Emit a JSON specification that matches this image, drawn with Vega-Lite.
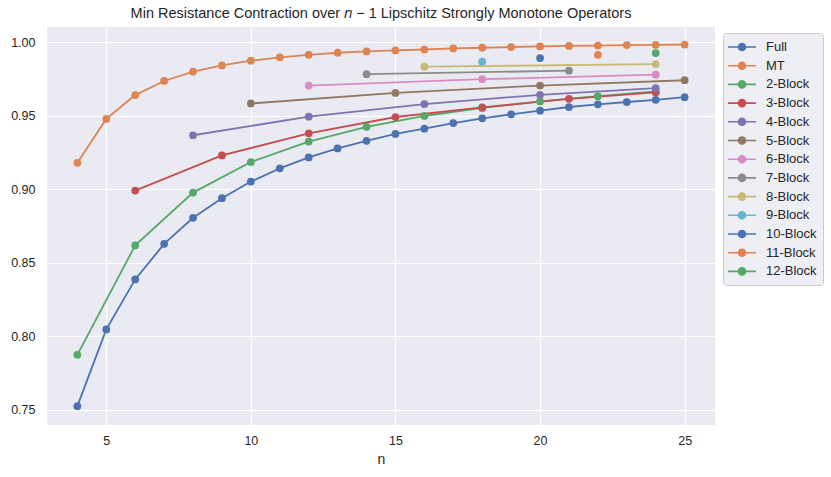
{
  "$schema": "https://vega.github.io/schema/vega-lite/v6.json",
  "width": 668,
  "height": 398,
  "autosize": {"type": "none"},
  "padding": {"left": 47, "top": 27, "right": 116, "bottom": 52},
  "background": "white",
  "title": {"text": "Min Resistance Contraction over 𝑛 − 1 Lipschitz Strongly Monotone Operators", "fontSize": 14.5, "font": "Liberation Sans", "fontWeight": "normal", "color": "#262626", "offset": 6},
  "config": {
    "view": {"fill": "#EAEAF2", "stroke": null},
    "axis": {"domain": false, "ticks": false, "gridColor": "white", "gridWidth": 1.2, "labelFont": "Liberation Sans", "labelFontSize": 12.5, "labelColor": "#262626", "titleFont": "Liberation Sans", "titleFontSize": 14, "titleFontWeight": "normal", "titleColor": "#262626"},
    "legend": {"labelFont": "Liberation Sans", "labelFontSize": 13, "labelColor": "#262626"}
  },
  "data": {"values": [
    {"s":"Full","n":4,"v":0.7525},{"s":"Full","n":5,"v":0.8047},{"s":"Full","n":6,"v":0.8387},{"s":"Full","n":7,"v":0.8628},{"s":"Full","n":8,"v":0.8806},{"s":"Full","n":9,"v":0.8939},{"s":"Full","n":10,"v":0.9052},{"s":"Full","n":11,"v":0.9142},{"s":"Full","n":12,"v":0.9216},{"s":"Full","n":13,"v":0.9277},{"s":"Full","n":14,"v":0.9329},{"s":"Full","n":15,"v":0.9376},{"s":"Full","n":16,"v":0.9412},{"s":"Full","n":17,"v":0.945},{"s":"Full","n":18,"v":0.9482},{"s":"Full","n":19,"v":0.9509},{"s":"Full","n":20,"v":0.9534},{"s":"Full","n":21,"v":0.9559},{"s":"Full","n":22,"v":0.9577},{"s":"Full","n":23,"v":0.9593},{"s":"Full","n":24,"v":0.9608},{"s":"Full","n":25,"v":0.9626},
    {"s":"MT","n":4,"v":0.918},{"s":"MT","n":5,"v":0.9478},{"s":"MT","n":6,"v":0.964},{"s":"MT","n":7,"v":0.9736},{"s":"MT","n":8,"v":0.98},{"s":"MT","n":9,"v":0.9842},{"s":"MT","n":10,"v":0.9874},{"s":"MT","n":11,"v":0.9897},{"s":"MT","n":12,"v":0.9914},{"s":"MT","n":13,"v":0.9928},{"s":"MT","n":14,"v":0.9937},{"s":"MT","n":15,"v":0.9944},{"s":"MT","n":16,"v":0.995},{"s":"MT","n":17,"v":0.9957},{"s":"MT","n":18,"v":0.9962},{"s":"MT","n":19,"v":0.9967},{"s":"MT","n":20,"v":0.9971},{"s":"MT","n":21,"v":0.9974},{"s":"MT","n":22,"v":0.9977},{"s":"MT","n":23,"v":0.998},{"s":"MT","n":24,"v":0.9982},{"s":"MT","n":25,"v":0.9984},
    {"s":"2-Block","n":4,"v":0.7874},{"s":"2-Block","n":6,"v":0.8619},{"s":"2-Block","n":8,"v":0.8977},{"s":"2-Block","n":10,"v":0.9185},{"s":"2-Block","n":12,"v":0.9324},{"s":"2-Block","n":14,"v":0.9424},{"s":"2-Block","n":16,"v":0.9498},{"s":"2-Block","n":18,"v":0.9553},{"s":"2-Block","n":20,"v":0.9597},{"s":"2-Block","n":22,"v":0.9633},{"s":"2-Block","n":24,"v":0.9665},
    {"s":"3-Block","n":6,"v":0.8991},{"s":"3-Block","n":9,"v":0.923},{"s":"3-Block","n":12,"v":0.938},{"s":"3-Block","n":15,"v":0.9491},{"s":"3-Block","n":18,"v":0.9556},{"s":"3-Block","n":21,"v":0.9615},{"s":"3-Block","n":24,"v":0.9658},
    {"s":"4-Block","n":8,"v":0.9367},{"s":"4-Block","n":12,"v":0.9493},{"s":"4-Block","n":16,"v":0.9579},{"s":"4-Block","n":20,"v":0.9642},{"s":"4-Block","n":24,"v":0.9687},
    {"s":"5-Block","n":10,"v":0.9583},{"s":"5-Block","n":15,"v":0.9655},{"s":"5-Block","n":20,"v":0.9705},{"s":"5-Block","n":25,"v":0.9741},
    {"s":"6-Block","n":12,"v":0.9705},{"s":"6-Block","n":18,"v":0.9748},{"s":"6-Block","n":24,"v":0.9779},
    {"s":"7-Block","n":14,"v":0.9782},{"s":"7-Block","n":21,"v":0.9806},
    {"s":"8-Block","n":16,"v":0.9833},{"s":"8-Block","n":24,"v":0.9851},
    {"s":"9-Block","n":18,"v":0.9867},
    {"s":"10-Block","n":20,"v":0.9892},
    {"s":"11-Block","n":22,"v":0.9914},
    {"s":"12-Block","n":24,"v":0.9926}
  ]},
  "encoding": {
    "x": {"field": "n", "type": "quantitative", "scale": {"domain": [2.95, 26.05], "nice": false, "zero": false}, "axis": {"values": [5, 10, 15, 20, 25], "title": "n", "labelPadding": 9, "titlePadding": 6, "grid": true}},
    "y": {"field": "v", "type": "quantitative", "scale": {"domain": [0.7397, 1.0103], "nice": false, "zero": false}, "axis": {"values": [0.75, 0.8, 0.85, 0.9, 0.95, 1.0], "format": ".2f", "title": null, "labelPadding": 12}},
    "color": {"field": "s", "type": "nominal",
      "scale": {"domain": ["Full","MT","2-Block","3-Block","4-Block","5-Block","6-Block","7-Block","8-Block","9-Block","10-Block","11-Block","12-Block"],
        "range": ["#4C72B0","#DD8452","#55A868","#C44E52","#8172B3","#937860","#DA8BC3","#8C8C8C","#CCB974","#64B5CD","#4C72B0","#DD8452","#55A868"]},
      "legend": {"title": null, "orient": "none", "legendX": 676, "legendY": 6,
        "fillColor": "#EEEEF5", "strokeColor": "#CCCCCC", "cornerRadius": 3, "padding": 6,
        "symbolType": "M-2,0L2,0M0.5,0A0.5,0.5,0,1,1,-0.5,0A0.5,0.5,0,1,1,0.5,0Z",
        "symbolSize": 196, "symbolStrokeWidth": 1.6, "symbolOffset": 5, "rowPadding": 3.7, "labelOffset": 16,
        "encode": {"symbols": {"update": {"fill": {"scale": "color", "field": "value"}, "stroke": {"scale": "color", "field": "value"}, "opacity": {"value": 1}}}}}}
  },
  "layer": [
    {"mark": {"type": "line", "strokeWidth": 1.8}, "encoding": {"detail": {"field": "s"}}},
    {"mark": {"type": "point", "filled": true, "size": 60, "opacity": 1}}
  ]
}
